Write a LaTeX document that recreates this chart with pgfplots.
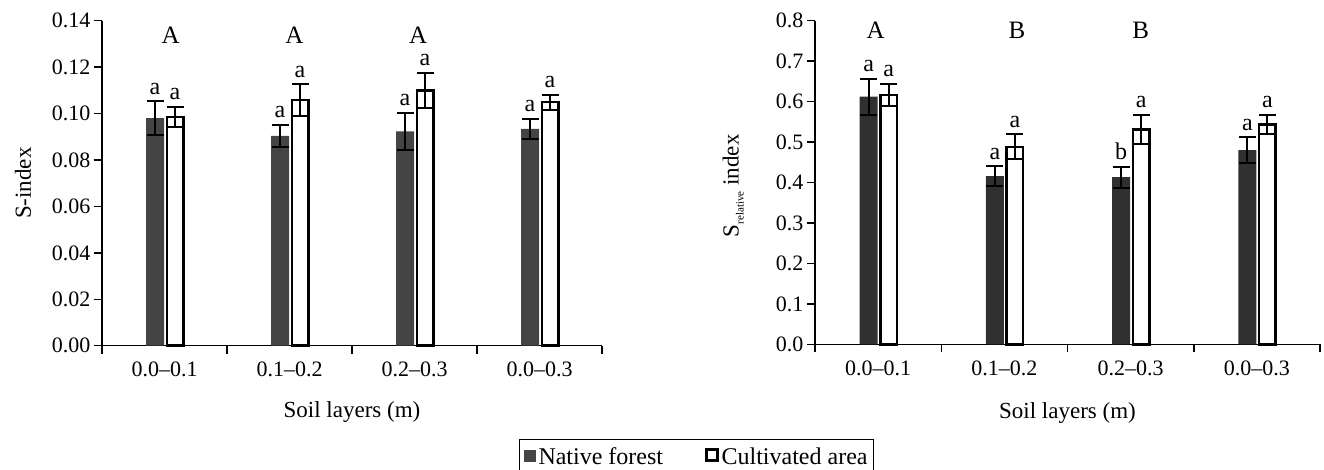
\documentclass[border=0pt]{standalone}
\usepackage{fontspec}
\setmainfont{Liberation Serif}
\usepackage{pgfplots}
\pgfplotsset{compat=1.18}
\definecolor{natL}{HTML}{444444}
\definecolor{natR}{HTML}{303030}
\newcommand{\lowa}[1]{\fontsize{24}{26}\selectfont #1}
\tikzset{up/.style={anchor=base, font=\fontsize{25}{28}\selectfont},
         lo/.style={anchor=base, yshift=7pt, inner ysep=1pt}}
\pgfplotsset{
  base/.style={
    scale only axis, axis x line*=bottom, axis y line*=left,
    xmin=0.5, xmax=4.5, xtick={1,2,3,4},
    xticklabels={0.0--0.1, 0.1--0.2, 0.2--0.3, 0.0--0.3},
    minor xtick={0.5,1.5,2.5,3.5,4.5},
    major x tick style={draw=none},
    tick align=outside, tick style={black, line width=1.5pt},
    major tick length=8pt, minor tick length=8pt,
    axis line style={line width=1.5pt},
    /pgf/number format/assume math mode=true,
    ticklabel style={font=\fontsize{22}{24}\selectfont},
    xticklabel style={yshift=-5pt},
    label style={font=\fontsize{23}{26}\selectfont},
    xlabel={Soil layers (m)},
    clip=false,
  },
  errs/.style={error bars/y dir=both, error bars/y explicit,
    error bars/error bar style={line width=2pt, draw=black},
    error bars/error mark options={rotate=90, line width=2pt, mark size=8.5pt, draw=black}},
}
\begin{document}
\begin{tikzpicture}[x=1pt,y=1pt]
\useasboundingbox (0,0) rectangle (1324,469);
% ---------- left ----------
\begin{axis}[base, at={(102pt,123.3pt)}, anchor=south west,
  width=500pt, height=325pt,
  ymin=0, ymax=0.14, ytick={0,0.02,0.04,0.06,0.08,0.10,0.12,0.14},
  yticklabel style={/pgf/number format/.cd, fixed, fixed zerofill, precision=2},
  ylabel={S-index},
  ylabel style={at={(axis description cs:-0.158,0.5)}, anchor=center},
  xlabel style={at={(axis description cs:0.5,-0.222)}, anchor=base},
  legend style={at={(axis description cs:0.834,-0.287)}, anchor=north west,
    draw=black, line width=1pt, font=\fontsize{24}{26}\selectfont,
    legend columns=2,
    /tikz/every odd column/.append style={column sep=1pt},
    /tikz/every even column/.append style={column sep=40pt},
    inner xsep=4pt, inner ysep=6pt},
]
\addplot[ybar, bar width=18pt, fill=natL, draw=none, errs,
  legend image code/.code={\fill[natL] (0pt,-5pt) rectangle (12pt,7pt);}]
  coordinates {(0.924,0.0980) +- (0,0.0073) (1.924,0.0904) +- (0,0.0047)
               (2.924,0.0923) +- (0,0.0080) (3.924,0.0934) +- (0,0.0043)};
\addlegendentry{Native forest}
\addplot[ybar, bar width=16.5pt, fill=white, draw=black, line width=2.5pt, errs,
  legend image code/.code={\draw[black, line width=2.5pt, fill=white] (1pt,-4pt) rectangle (12pt,7pt);}]
  coordinates {(1.084,0.0986) +- (0,0.0044) (2.084,0.1059) +- (0,0.0068)
               (3.084,0.1099) +- (0,0.0077) (4.084,0.1049) +- (0,0.0033)};
\addlegendentry{Cultivated area}
% lowercase letters
\node[lo] at (axis cs:0.924,0.1053) {\lowa{a}};
\node[lo] at (axis cs:1.084,0.1030) {\lowa{a}};
\node[lo] at (axis cs:1.924,0.0951) {\lowa{a}};
\node[lo] at (axis cs:2.084,0.1127) {\lowa{a}};
\node[lo] at (axis cs:2.924,0.1003) {\lowa{a}};
\node[lo] at (axis cs:3.084,0.1176) {\lowa{a}};
\node[lo] at (axis cs:3.924,0.0977) {\lowa{a}};
\node[lo] at (axis cs:4.084,0.1082) {\lowa{a}};
% uppercase letters
\node[up] at (axis cs:1.05,0.1303) {A};
\node[up] at (axis cs:2.04,0.1303) {A};
\node[up] at (axis cs:3.03,0.1303) {A};
\end{axis}
% ---------- right ----------
\begin{axis}[base, at={(815pt,124.7pt)}, anchor=south west,
  width=505pt, height=323.6pt,
  ymin=0, ymax=0.8, ytick={0,0.1,0.2,0.3,0.4,0.5,0.6,0.7,0.8},
  yticklabel style={/pgf/number format/.cd, fixed, fixed zerofill, precision=1},
  ylabel={S\raisebox{-5pt}{\fontsize{11}{12}\selectfont relative} index},
  ylabel style={at={(axis description cs:-0.162,0.49)}, anchor=center},
  xlabel style={at={(axis description cs:0.5,-0.228)}, anchor=base},
]
\addplot[ybar, bar width=18pt, fill=natR, draw=none, errs]
  coordinates {(0.925,0.612) +- (0,0.045) (1.925,0.416) +- (0,0.024)
               (2.925,0.413) +- (0,0.026) (3.925,0.480) +- (0,0.032)};
\addplot[ybar, bar width=16.5pt, fill=white, draw=black, line width=2.5pt, errs]
  coordinates {(1.083,0.616) +- (0,0.028) (2.083,0.488) +- (0,0.031)
               (3.083,0.531) +- (0,0.036) (4.083,0.544) +- (0,0.023)};
\node[lo] at (axis cs:0.925,0.657) {\lowa{a}};
\node[lo] at (axis cs:1.083,0.644) {\lowa{a}};
\node[lo] at (axis cs:1.925,0.440) {\lowa{a}};
\node[lo] at (axis cs:2.083,0.519) {\lowa{a}};
\node[lo] at (axis cs:2.925,0.439) {\lowa{b}};
\node[lo] at (axis cs:3.083,0.567) {\lowa{a}};
\node[lo] at (axis cs:3.925,0.512) {\lowa{a}};
\node[lo] at (axis cs:4.083,0.567) {\lowa{a}};
\node[up] at (axis cs:0.98,0.757) {A};
\node[up] at (axis cs:2.10,0.757) {B};
\node[up] at (axis cs:3.08,0.757) {B};
\end{axis}
\end{tikzpicture}
\end{document}
